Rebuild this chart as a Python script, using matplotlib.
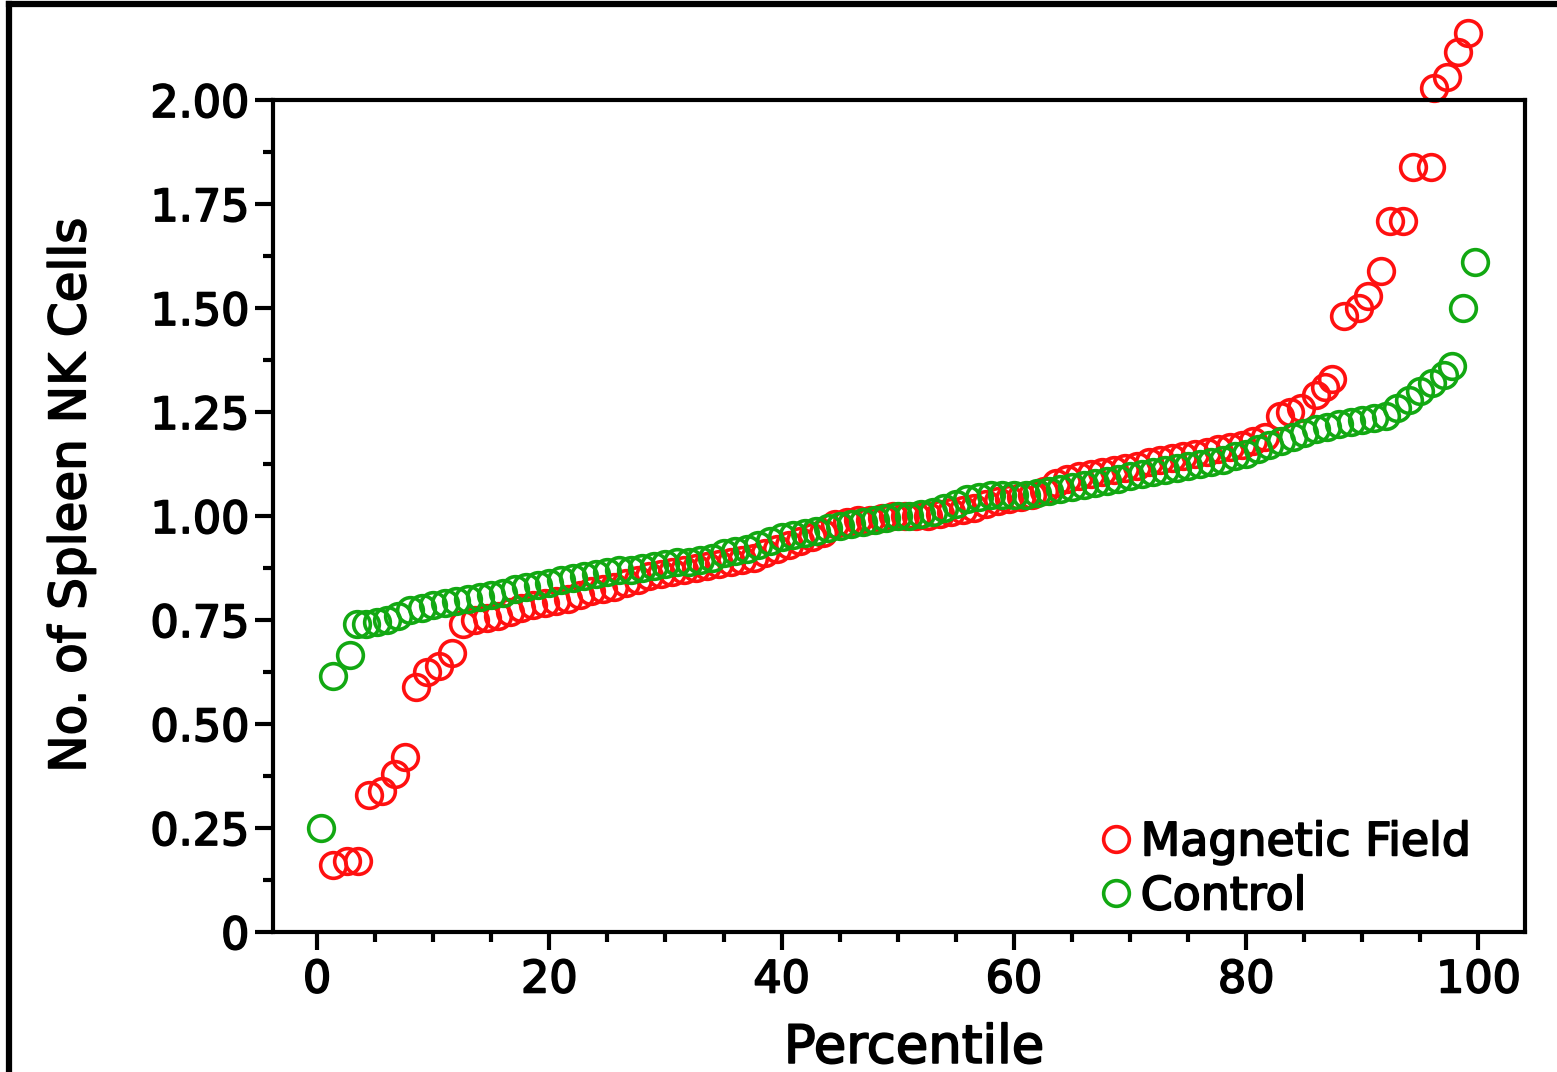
import matplotlib.pyplot as plt
import matplotlib.patheffects as pe
from matplotlib.lines import Line2D
from matplotlib.ticker import MultipleLocator, FixedLocator

plt.rcParams['font.family'] = ['DejaVu Sans']

# Magnetic Field (percentile, no. of cells)
mag_pct = [1.4, 2.6, 3.5, 4.5, 5.6, 6.7, 7.6, 8.5, 9.5, 10.5, 11.6, 12.6, 13.6, 14.6,
           15.6, 16.6, 17.6, 18.6, 19.6, 20.6, 21.6, 22.6, 23.6, 24.6, 25.6, 26.6,
           27.6, 28.6, 29.6, 30.6, 31.6, 32.6, 33.6, 34.6, 35.6, 36.6, 37.6, 38.6,
           39.6, 40.6, 41.6, 42.6, 43.6, 44.6, 45.6, 46.6, 47.6, 48.6, 49.6, 50.6,
           51.6, 52.6, 53.6, 54.6, 55.6, 56.6, 57.6, 58.6, 59.6, 60.6, 61.6, 62.6,
           63.6, 64.6, 65.6, 66.6, 67.6, 68.6, 69.6, 70.6, 71.6, 72.6, 73.6, 74.6,
           75.6, 76.6, 77.6, 78.6, 79.6, 80.6, 81.6, 82.9, 83.8, 84.7, 86.0, 86.8,
           87.4, 88.4, 89.7, 90.5, 91.6, 92.4, 93.5, 94.4, 95.9, 96.2, 97.3, 98.2, 99.1]
mag_val = [0.16, 0.17, 0.17, 0.33, 0.34, 0.38, 0.42, 0.59, 0.625, 0.64, 0.67, 0.74, 0.75, 0.755,
           0.76, 0.77, 0.78, 0.785, 0.79, 0.795, 0.80, 0.81, 0.82, 0.825, 0.83, 0.84,
           0.845, 0.855, 0.86, 0.865, 0.87, 0.875, 0.88, 0.885, 0.89, 0.895, 0.90, 0.91,
           0.92, 0.93, 0.94, 0.95, 0.96, 0.98, 0.985, 0.99, 0.99, 0.995, 1.0, 1.0,
           1.0, 1.0, 1.005, 1.01, 1.015, 1.02, 1.03, 1.035, 1.04, 1.045, 1.05, 1.06,
           1.08, 1.09, 1.095, 1.10, 1.105, 1.11, 1.115, 1.12, 1.13, 1.135, 1.14, 1.145,
           1.15, 1.155, 1.16, 1.165, 1.17, 1.18, 1.19, 1.24, 1.25, 1.26, 1.29, 1.31,
           1.33, 1.48, 1.50, 1.53, 1.59, 1.71, 1.71, 1.84, 1.84, 2.03, 2.055, 2.115, 2.16]

# Control
ctl_pct = [0.3, 1.4, 2.8, 3.4, 4.2, 5.2, 6.0, 7.0, 8.0, 9.0, 10.0, 11.0, 12.0, 13.0,
           14.0, 15.0, 16.0, 17.0, 18.0, 19.0, 20.0, 21.0, 22.0, 23.0, 24.0, 25.0,
           26.0, 27.0, 28.0, 29.0, 30.0, 31.0, 32.0, 33.0, 34.0, 35.0, 36.0, 37.0,
           38.0, 39.0, 40.0, 41.0, 42.0, 43.0, 44.0, 45.0, 46.0, 47.0, 48.0, 49.0,
           50.0, 51.0, 52.0, 53.0, 54.0, 55.0, 56.0, 57.0, 58.0, 59.0, 60.0, 61.0,
           62.0, 63.0, 64.0, 65.0, 66.0, 67.0, 68.0, 69.0, 70.0, 71.0, 72.0, 73.0,
           74.0, 75.0, 76.0, 77.0, 78.0, 79.0, 80.0, 81.0, 82.0, 83.0, 84.0, 85.0,
           86.0, 87.0, 88.0, 89.0, 90.0, 91.0, 92.0, 93.0, 94.0, 95.0, 96.0, 97.0,
           97.7, 98.7, 99.7]
ctl_val = [0.25, 0.615, 0.665, 0.74, 0.74, 0.745, 0.75, 0.76, 0.775, 0.78, 0.785, 0.79, 0.795, 0.80,
           0.805, 0.81, 0.815, 0.825, 0.83, 0.835, 0.84, 0.845, 0.85, 0.855, 0.86, 0.865,
           0.87, 0.87, 0.875, 0.88, 0.885, 0.89, 0.89, 0.895, 0.90, 0.91, 0.915, 0.92,
           0.93, 0.94, 0.95, 0.955, 0.96, 0.965, 0.97, 0.975, 0.98, 0.985, 0.99, 0.995,
           1.0, 1.0, 1.005, 1.01, 1.02, 1.03, 1.04, 1.045, 1.05, 1.05, 1.05, 1.05,
           1.055, 1.06, 1.065, 1.07, 1.075, 1.08, 1.085, 1.09, 1.095, 1.10, 1.105, 1.11,
           1.115, 1.12, 1.125, 1.13, 1.135, 1.145, 1.15, 1.16, 1.17, 1.18, 1.19, 1.20,
           1.21, 1.215, 1.22, 1.225, 1.23, 1.235, 1.24, 1.26, 1.28, 1.30, 1.32, 1.34,
           1.36, 1.50, 1.61]

y_ticks = [0, 0.25, 0.5, 0.75, 1.0, 1.25, 1.5, 1.75, 2.0]
y_ticklabels = ['0', '0.25', '0.50', '0.75', '1.00', '1.25', '1.50', '1.75', '2.00']
x_ticks = [0, 20, 40, 60, 80, 100]

fig = plt.figure(figsize=(15.57, 10.72), dpi=100)
ax = fig.add_axes([0.1753, 0.1306, 0.8041, 0.7761])

red = '#ff1010'
green = '#12a812'
ax.plot(mag_pct, mag_val, 'o', ls='none', mfc='none', mec=red, ms=18.5, mew=2.6,
        clip_on=False, label='Magnetic Field')
ax.plot(ctl_pct, ctl_val, 'o', ls='none', mfc='none', mec=green, ms=18.5, mew=2.6,
        clip_on=False, label='Control')

ax.set_xlim(-3.8, 104)
ax.set_ylim(0, 2.0)
ax.yaxis.set_major_locator(FixedLocator(y_ticks))
ax.set_yticklabels(y_ticklabels)
ax.yaxis.set_minor_locator(MultipleLocator(0.125))
ax.xaxis.set_major_locator(FixedLocator(x_ticks))
ax.xaxis.set_minor_locator(MultipleLocator(5))

for s in ax.spines.values():
    s.set_linewidth(3)
ax.tick_params(which='major', length=13, width=3, labelsize=32, pad=4)
ax.tick_params(which='minor', length=7, width=3)
ax.tick_params(axis='x', which='major', pad=6)

ax.set_xlabel('Percentile', fontsize=38)
ax.set_ylabel('No. of Spleen NK Cells', fontsize=36)
ax.xaxis.set_label_coords(0.512, -0.108)
ax.yaxis.set_label_coords(-0.142, 0.525)

leg = ax.legend(loc='lower left', bbox_to_anchor=(0.662, 0.015), frameon=False,
                fontsize=33, handlelength=0.6, handletextpad=0.25, labelspacing=0.2,
                borderpad=0, borderaxespad=0)

# heavier text, like the original's bold-ish rendering
thick = [pe.withStroke(linewidth=1.3, foreground='black')]
texts = ax.get_xticklabels() + ax.get_yticklabels() + leg.get_texts()
texts += [ax.xaxis.label, ax.yaxis.label]
for t in texts:
    t.set_path_effects(thick)

# outer frame (only top and left edges visible in the original)
fig.add_artist(Line2D([0.006, 0.006], [0, 0.996], color='black', lw=4.5))
fig.add_artist(Line2D([0.006, 1.0], [0.996, 0.996], color='black', lw=4.5))

plt.savefig('out.png', dpi=100)
